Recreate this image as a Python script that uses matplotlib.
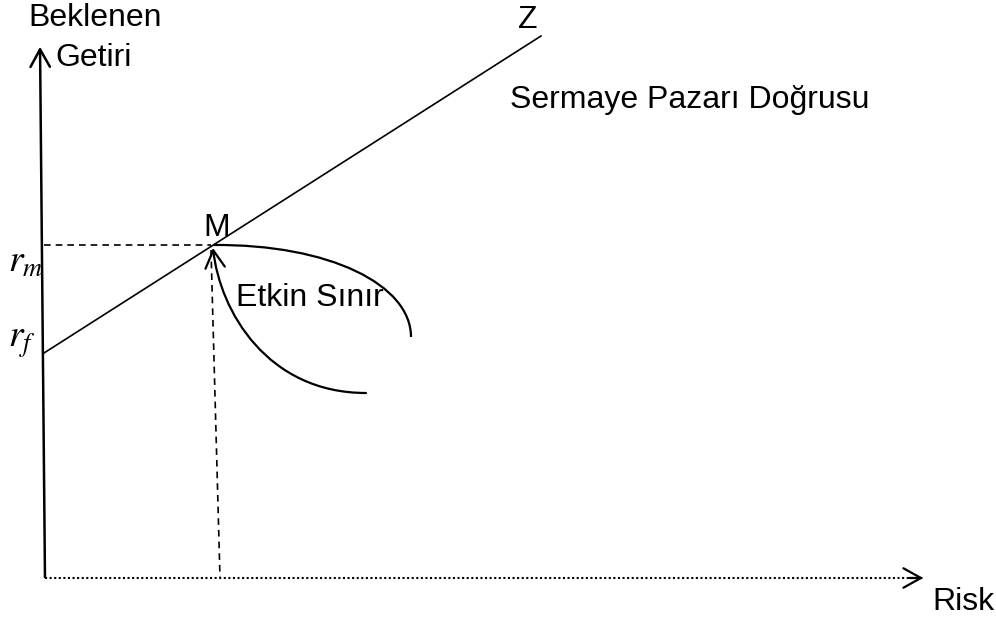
import matplotlib
matplotlib.use("Agg")
import matplotlib.pyplot as plt
from matplotlib.path import Path
from matplotlib.patches import FancyArrowPatch, PathPatch

plt.rcParams['font.family'] = ['Liberation Sans', 'DejaVu Sans']
plt.rcParams['mathtext.fontset'] = 'stix'

# diagram points, in picture pixels (x right, y down)
y_axis = [(45, 580), (40, 44)]
x_axis = [(45, 578), (926, 578)]
rf_point = (44, 353)
m_point = (213, 246)
z_end = (541, 36)
m_drop = [(211, 250), (220, 578)]
m_level = [(44, 245), (211, 245)]
upper_curve = [(213, 245), (330, 244), (411, 285), (411, 337)]
lower_curve = [(213, 248), (220, 312), (268, 393), (366, 393)]

labels = ["Beklenen", "Getiri", "Risk", "Z", "Sermaye Pazarı Doğrusu", "M", "Etkin Sınır"]
label_pos = [(28, 18), (55, 58), (932, 602), (518, 20), (510, 100), (203, 228), (236, 298)]

fig = plt.figure(figsize=(9.96, 6.17), dpi=100)
ax = fig.add_axes([0, 0, 1, 1])
ax.set_xlim(0, 996)
ax.set_ylim(617, 0)
ax.axis('off')

# y axis with open arrow head
ax.add_patch(FancyArrowPatch(y_axis[0], y_axis[1], arrowstyle='->,head_length=0.9,head_width=0.5',
                             mutation_scale=14, lw=1.8, color='black'))
# x axis dotted with arrow head
ax.plot([x_axis[0][0], x_axis[1][0] - 3], [x_axis[0][1], x_axis[1][1]], color='black',
        lw=1.5, linestyle=(0, (1, 1.2)))
ax.add_patch(FancyArrowPatch((x_axis[1][0] - 20, x_axis[1][1]), x_axis[1],
                             arrowstyle='->,head_length=0.9,head_width=0.5',
                             mutation_scale=14, lw=1.6, color='black'))

# capital market line
ax.plot([rf_point[0], z_end[0]], [rf_point[1], z_end[1]], color='black', lw=1.2)

# dashed guides
ax.plot([p[0] for p in m_level], [p[1] for p in m_level], color='black', lw=1.2, dashes=(4, 3))
ax.plot([p[0] for p in m_drop], [p[1] for p in m_drop], color='black', lw=1.2, dashes=(4, 3))

# efficient frontier
codes = [Path.MOVETO, Path.CURVE4, Path.CURVE4, Path.CURVE4]
ax.add_patch(PathPatch(Path(upper_curve, codes), fill=False, lw=1.6, edgecolor='black'))
ax.add_patch(FancyArrowPatch(path=Path(lower_curve[::-1], codes),
                             arrowstyle='->,head_length=0.9,head_width=0.5',
                             mutation_scale=14, lw=1.6, color='black'))

for txt, (x, y) in zip(labels, label_pos):
    ax.text(x, y, txt, fontsize=23, va='center', ha='left')

ax.text(8, 262, r'$r_m$', fontsize=27, va='center', ha='left')
ax.text(8, 342, r'$r_f$', fontsize=27, va='center', ha='left')

fig.savefig('out.png', dpi=100)
